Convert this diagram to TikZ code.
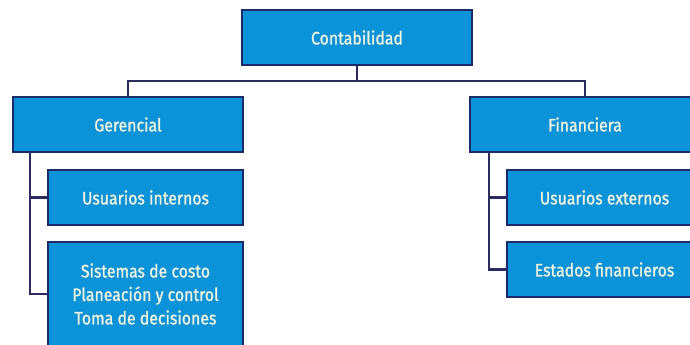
\documentclass[tikz,border=0pt]{standalone}
\usepackage{fontspec}
\setmainfont{Fira Sans}[FakeStretch=0.88,FakeBold=1.2]
\definecolor{boxfill}{HTML}{0B93DA}
\definecolor{boxline}{HTML}{1C2A6A}
\definecolor{conline}{HTML}{2C2B5E}
\definecolor{boxtext}{HTML}{F2F2DE}
\begin{document}
\begin{tikzpicture}[x=1pt,y=-1pt,
  box/.style={draw=boxline, line width=2.4pt, fill=boxfill, text=boxtext,
    inner sep=0pt, align=center, font=\fontsize{18}{23.5}\selectfont},
  conn/.style={draw=conline, line width=2.2pt}]
\useasboundingbox (0,0) rectangle (690,345);
\clip (0,0) rectangle (690,345);
\node[box, minimum width=230pt, minimum height=55pt] (cont) at (357,37.5) {Contabilidad};
\node[box, minimum width=230pt, minimum height=55pt] (ger) at (128,124.5) {Gerencial};
\node[box, minimum width=230pt, minimum height=55pt] (fin) at (585,124.5) {Financiera};
\node[box, minimum width=195pt, minimum height=55pt] (ui) at (145.5,197.5) {Usuarios internos};
\node[box, minimum width=195pt, minimum height=104pt] (sis) at (145.5,294) {Sistemas de costo\\Planeación y control\\Toma de decisiones};
\node[box, minimum width=195pt, minimum height=55pt] (ue) at (604.5,197.5) {Usuarios externos};
\node[box, minimum width=195pt, minimum height=55pt] (ef) at (604.5,269.5) {Estados financieros};
\coordinate (bus) at (0,81);
\coordinate (gsp) at (30,152);
\coordinate (fsp) at (489,152);
\draw[conn] (cont.south) -- (cont.south |- bus);
\draw[conn] (ger.north) -- (ger.north |- bus) -- (fin.north |- bus) -- (fin.north);
\draw[conn] (gsp) |- (ui.west);
\draw[conn] (gsp) |- (sis.west);
\draw[conn] (fsp) |- (ue.west);
\draw[conn] (fsp) |- (ef.west);
\end{tikzpicture}
\end{document}
